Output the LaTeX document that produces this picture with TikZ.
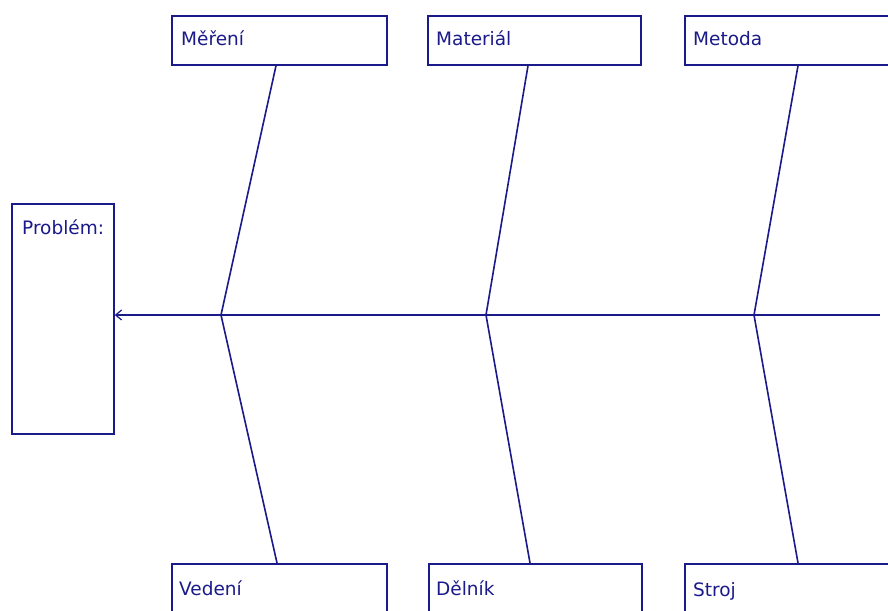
\documentclass[tikz,border=0pt]{standalone}
\usepackage{fontspec}
\setmainfont{DejaVu Sans}
\usetikzlibrary{arrows.meta}
\definecolor{ink}{RGB}{26,26,138}
\begin{document}
\begin{tikzpicture}[x=1pt,y=-1pt,
  box/.style={draw=ink,line width=1.7pt,rectangle,inner sep=0pt,anchor=north west},
  lbl/.style={text=ink,anchor=base west,inner sep=0pt,font=\fontsize{18.5}{22}\selectfont},
  bone/.style={draw=ink,line width=1.6pt}]
\clip (0,0) rectangle (888,610);
\fill[white] (0,0) rectangle (888,610);
% effect box
\node[box,minimum width=102pt,minimum height=230pt] (prob) at (11,203) {};
\node[lbl] (probt) at (22,234) {Problém:};
% cause boxes, top row
\node[box,minimum width=215pt,minimum height=49pt] (mer) at (171,15) {};
\node[box,minimum width=213pt,minimum height=49pt] (mat) at (427,15) {};
\node[box,minimum width=220pt,minimum height=49pt] (met) at (684,15) {};
\node[lbl] (mert) at (181,46) {Měření};
\node[lbl] (matt) at (436,46) {Materiál};
\node[lbl] (mett) at (693,46) {Metoda};
% cause boxes, bottom row
\node[box,minimum width=215pt,minimum height=80pt] (ved) at (171,563) {};
\node[box,minimum width=213pt,minimum height=80pt] (del) at (428,563) {};
\node[box,minimum width=220pt,minimum height=80pt] (str) at (684,563) {};
\node[lbl] (vedt) at (179,595) {Vedení};
\node[lbl] (delt) at (436,595) {Dělník};
\node[lbl] (strt) at (693,596) {Stroj};
% spine
\coordinate (tail) at (880,315);
\coordinate (j1) at (221,315);
\coordinate (j2) at (486,315);
\coordinate (j3) at (754,315);
\draw[bone,-{Straight Barb[length=6pt,width=10pt,line width=1.2pt]}] (tail) -- (prob.east |- tail);
% attachment points on the boxes
\coordinate (a1) at (mer.south west -| 276,0);
\coordinate (a2) at (mat.south west -| 528,0);
\coordinate (a3) at (met.south west -| 798,0);
\coordinate (b1) at (ved.north west -| 277,0);
\coordinate (b2) at (del.north west -| 530,0);
\coordinate (b3) at (str.north west -| 798,0);
% bones
\draw[bone] (a1) -- (j1) -- (b1);
\draw[bone] (a2) -- (j2) -- (b2);
\draw[bone] (a3) -- (j3) -- (b3);
\end{tikzpicture}
\end{document}
